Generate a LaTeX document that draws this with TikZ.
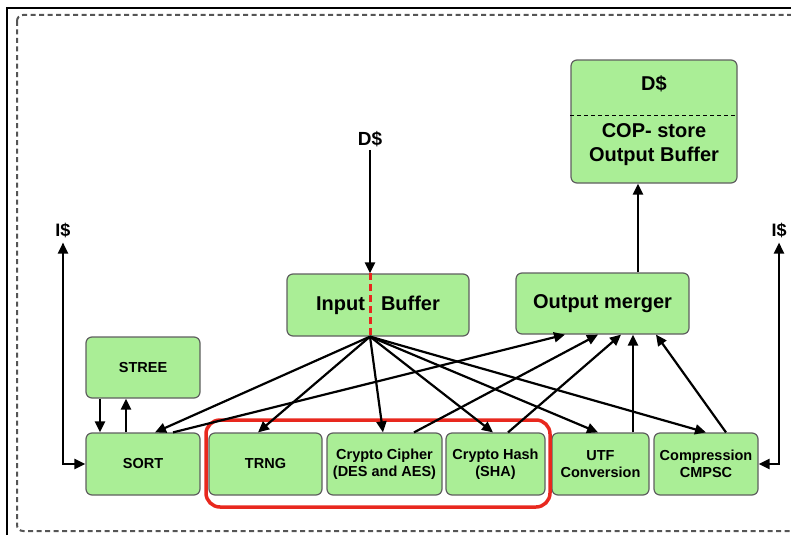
\documentclass[tikz,border=0pt]{standalone}
\usepackage{fontspec}
\setmainfont{Liberation Sans}
\usetikzlibrary{arrows.meta}
\definecolor{boxgreen}{RGB}{170,238,150}
\definecolor{boxedge}{RGB}{95,95,95}
\definecolor{hlred}{RGB}{232,40,30}
\definecolor{framegray}{RGB}{85,85,85}
\begin{document}
\begin{tikzpicture}[x=1pt,y=-1pt,
  blk/.style={draw=boxedge, fill=boxgreen, line width=1.2pt, rounded corners=6pt,
    inner sep=0pt, font=\fontsize{14.5}{17}\selectfont\bfseries, align=center,
    minimum height=62pt},
  bigtxt/.style={font=\fontsize{20}{24}\selectfont\bfseries},
  lbl/.style={inner sep=0pt, align=center, font=\fontsize{20}{24}\selectfont\bfseries},
  arr/.style={line width=2.2pt, -{Triangle[length=11pt,width=10pt]}},
  darr/.style={line width=2.2pt, {Triangle[length=11pt,width=10pt]}-{Triangle[length=11pt,width=10pt]}},
]
\useasboundingbox (0,0) rectangle (791,535);
% outer frame
\draw[line width=1.5pt] (7,535) -- (7,8) -- (791,8);
\draw[framegray, line width=2pt, dash pattern=on 5pt off 3.5pt, rounded corners=6pt]
  (17,15) rectangle (805,531);

% boxes
\node[blk, minimum width=166pt, minimum height=123pt] (cop) at (654,121.5) {};
\node[lbl] (copd) at (654,84) {D\$};
\node[lbl] (copt) at (654,145) {COP- store\\Output Buffer};
\draw[dash pattern=on 4pt off 3pt, line width=1.3pt]
  ([yshift=-56pt]cop.north west) -- ([yshift=-56pt]cop.north east);

\node[blk, bigtxt, minimum width=182pt] (ib) at (378,305) {Input\hspace{16pt}Buffer};
\node[blk, bigtxt, minimum width=173pt, minimum height=61pt] (om) at (602.5,303.5) {Output merger};

\node[blk, minimum width=114pt, minimum height=61pt] (stree) at (143,367.5) {STREE};
\node[blk, minimum width=114pt] (sort) at (143,464) {SORT};
\node[blk, minimum width=113pt] (trng) at (265.5,464) {TRNG};
\node[blk, minimum width=115pt] (cc) at (384.5,464) {Crypto Cipher\\(DES and AES)};
\node[blk, minimum width=99pt] (ch) at (495.5,464) {Crypto Hash\\(SHA)};
\node[blk, minimum width=97pt] (utf) at (600.5,464) {UTF\\Conversion};
\node[blk, minimum width=104pt] (cmp) at (706,464) {Compression\\CMPSC};

\node[draw=hlred, line width=3.5pt, rounded corners=14pt, inner sep=0pt,
  minimum width=344pt, minimum height=87pt] (hl) at (378,463.5) {};

% labels
\node[lbl, font=\fontsize{19}{22}\selectfont\bfseries] (dtop) at (370,139) {D\$};
\node[lbl, font=\fontsize{18}{22}\selectfont\bfseries] (isl) at (63,230) {I\$};
\node[lbl, font=\fontsize{18}{22}\selectfont\bfseries] (isr) at (779,230) {I\$};

% D$ into input buffer
\draw[arr] ([yshift=-3pt]dtop.south) -- ([xshift=-8pt]ib.north);
\draw[hlred, line width=3pt, dash pattern=on 7pt off 4pt]
  ([xshift=-8pt]ib.north) -- ([xshift=-8pt]ib.south);

% fan out of input buffer
\coordinate (fan) at ([xshift=-8pt]ib.south);
\draw[arr] (fan) -- ([xshift=12pt]sort.north);
\draw[arr] (fan) -- ([xshift=-7.5pt]trng.north);
\draw[arr] (fan) -- ([xshift=-1.5pt]cc.north);
\draw[arr] (fan) -- ([xshift=-2.5pt]ch.north);
\draw[arr] (fan) -- ([xshift=-2.5pt]utf.north);
\draw[arr] (fan) -- (cmp.north);

% into output merger
\draw[arr] ([xshift=30pt]sort.north) -- ([xshift=-37.5pt]om.south);
\draw[arr] ([xshift=29.5pt]cc.north) -- ([xshift=-4.5pt]om.south);
\draw[arr] ([xshift=12.5pt]ch.north) -- ([xshift=18.5pt]om.south);
\draw[arr] ([xshift=32.5pt]utf.north) -- ([xshift=30.5pt]om.south);
\draw[arr] ([xshift=20pt]cmp.north) -- ([xshift=53.5pt]om.south);

% output merger to COP store
\draw[arr] ([xshift=35.5pt]om.north) -- ([xshift=-16pt]cop.south);

% STREE <-> SORT
\draw[arr] ([xshift=-43pt]stree.south) -- ([xshift=-43pt]sort.north);
\draw[arr] ([xshift=-17pt]sort.north) -- ([xshift=-17pt]stree.south);

% I$ links
\draw[darr] ([yshift=-5pt]isl.south) |- (sort.west);
\draw[darr] ([yshift=-5pt]isr.south) |- (cmp.east);
\end{tikzpicture}
\end{document}
